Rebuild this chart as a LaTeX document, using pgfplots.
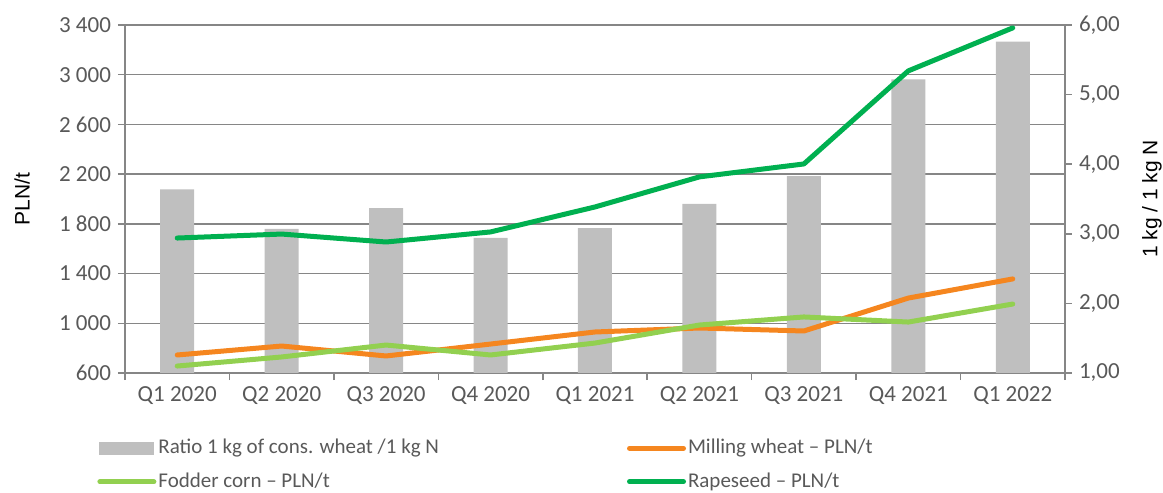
\documentclass[border=0pt]{standalone}
\usepackage{pgfplots}
\pgfplotsset{compat=1.18}
\usepackage{fontspec}
\setmainfont{Carlito}
\newfontfamily\arialf{Liberation Sans}
\definecolor{barGray}{RGB}{191,191,191}
\definecolor{axisGray}{RGB}{134,134,134}
\definecolor{tickText}{RGB}{89,89,89}
\definecolor{millOrange}{RGB}{245,134,31}
\definecolor{cornGreen}{RGB}{146,208,80}
\definecolor{rapeGreen}{RGB}{0,176,80}
\pgfplotsset{
  base/.style={
    scale only axis, width=470pt, height=174pt,
    xmin=-0.5, xmax=8.5,
    ticklabel style={font=\fontsize{11.5}{13}\selectfont, text=tickText},
    /pgf/number format/assume math mode=true,
  },
}
\begin{document}
\begin{tikzpicture}
\useasboundingbox (-62.5pt,-60pt) rectangle (519pt,186.5pt);
% left scale: grid, ticks, labels
\begin{axis}[base,
  ymin=600, ymax=3400,
  ytick={600,1000,1400,1800,2200,2600,3000,3400},
  xtick={-0.5,0.5,1.5,2.5,3.5,4.5,5.5,6.5,7.5,8.5},
  x tick label as interval,
  xticklabels={Q1 2020,Q2 2020,Q3 2020,Q4 2020,Q1 2021,Q2 2021,Q3 2021,Q4 2021,Q1 2022},
  axis x line*=bottom, axis y line*=left,
  ymajorgrids, grid style={axisGray, line width=0.75pt},
  axis line style={axisGray, line width=0.75pt, -},
  tick style={axisGray, line width=0.75pt},
  tick align=outside, major tick length=3.5pt,
  /pgf/number format/1000 sep={\ },
  ylabel={\arialf PLN/t},
  every axis y label/.style={at={(axis description cs:0,0.5)}, xshift=-51.5pt,
    rotate=90, anchor=center, font=\fontsize{10.5}{12}\selectfont},
]
\end{axis}
% right scale: bars
\begin{axis}[base,
  ymin=1, ymax=6, ytick={1,2,3,4,5,6},
  axis x line=none, axis y line*=right,
  axis line style={axisGray, line width=0.75pt, -},
  tick style={axisGray, line width=0.75pt},
  tick align=outside, major tick length=3.5pt,
  yticklabel style={/pgf/number format/.cd, fixed, fixed zerofill, precision=2, use comma},
  ylabel={\arialf 1 kg / 1 kg N},
  every axis y label/.style={at={(axis description cs:1,0.5)}, xshift=43.5pt,
    rotate=90, anchor=center, font=\fontsize{10.5}{12}\selectfont},
]
\addplot[ybar, bar width=17pt, fill=barGray, draw=none] coordinates {
  (0,3.64) (1,3.07) (2,3.37) (3,2.94) (4,3.08) (5,3.43) (6,3.83) (7,5.22) (8,5.76)
};
\end{axis}
% left scale: lines
\begin{axis}[base,
  ymin=600, ymax=3400, hide axis,
  legend columns=2,
  legend image code/.code={\draw[#1, line cap=round] (0pt,0pt) -- (27pt,0pt);},
  legend style={at={(0,0)}, anchor=north west, xshift=-14pt, yshift=-32pt,
    draw=none, fill=none, font=\fontsize{10.5}{12}\selectfont, text=tickText,
    row sep=6pt, inner sep=0pt,
    nodes={inner sep=1pt},
    /tikz/every even column/.append style={column sep=93pt}},
  legend cell align=left,
]
\addlegendimage{legend image code/.code={\fill[barGray] (0pt,-3pt) rectangle (27pt,3pt);}}
\addlegendentry{Ratio 1 kg of cons. wheat /1 kg N}
\addplot[millOrange, line width=2.5pt, line join=round, line cap=round] coordinates {
  (0,745) (1,817) (2,737) (3,833) (4,930) (5,962) (6,938) (7,1203) (8,1357)
};
\addlegendentry{Milling wheat -- PLN/t}
\addplot[cornGreen, line width=2.5pt, line join=round, line cap=round] coordinates {
  (0,656) (1,729) (2,825) (3,745) (4,841) (5,986) (6,1051) (7,1010) (8,1155)
};
\addlegendentry{Fodder corn -- PLN/t}
\addplot[rapeGreen, line width=2.5pt, line join=round, line cap=round] coordinates {
  (0,1686) (1,1718) (2,1654) (3,1735) (4,1936) (5,2178) (6,2282) (7,3031) (8,3377)
};
\addlegendentry{Rapeseed -- PLN/t}
\end{axis}
\end{tikzpicture}
\end{document}
